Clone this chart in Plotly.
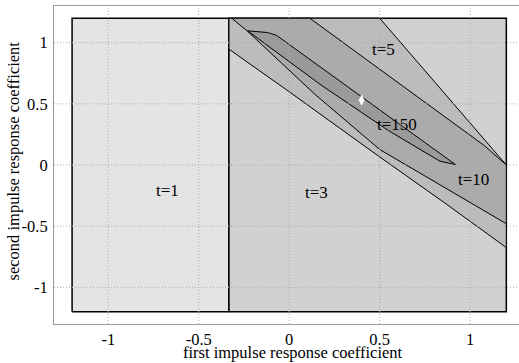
import plotly.graph_objects as go

# ---- data ----
# feasible-set polygons in (first coeff, second coeff) space
t1_x = [-1.2, -0.333, -0.333, -1.2]
t1_y = [-1.2, -1.2, 1.2, 1.2]

t3_x = [-0.333, 1.2, 1.2, -0.333]
t3_y = [-1.2, -1.2, 1.2, 1.2]

t5_x = [-0.333, 0.5, 1.2, 1.2, 0.85, 0.5, -0.02, -0.333]
t5_y = [1.2, 1.2, 0.0, -0.675, -0.30, 0.066, 0.62, 0.947]

t10_x = [-0.318, 0.114, 1.08, 1.2, 1.2, 0.5, 0.142, -0.235]
t10_y = [1.2, 1.2, 0.157, 0.0, -0.48, 0.127, 0.578, 1.10]

t150_x = [-0.23, -0.12, -0.07, 0.918, 0.833, 0.55, 0.17]
t150_y = [1.097, 1.083, 1.06, 0.004, 0.031, 0.28, 0.66]

true_x = [0.4]
true_y = [0.53]

region_names = ["t=1", "t=3", "t=5", "t=10", "t=150"]
label_x = [-0.673, 0.151, 0.519, 1.02, 0.593]
label_y = [-0.207, -0.221, 0.947, -0.119, 0.332]

tick_vals = [-1, -0.5, 0, 0.5, 1]
tick_text = ["-1", "-0.5", "0", "0.5", "1"]

x_title = "first impulse response coefficient"
y_title = "second impulse response coefficient"

# ---- styles ----
FONT = "Liberation Serif"
X_RANGE = [-1.3, 1.27]
Y_RANGE = [-1.3, 1.3]
fills = ["#e4e4e4", "#d1d1d1", "#bcbcbc", "#ababab", "#9a9a9a"]
widths = [1.5, 1.5, 1, 1, 1]
polys = [(t1_x, t1_y), (t3_x, t3_y), (t5_x, t5_y), (t10_x, t10_y), (t150_x, t150_y)]

fig = go.Figure()

for (px, py), fc, w, name in zip(polys, fills, widths, region_names):
    fig.add_trace(go.Scatter(
        x=list(px) + [px[0]], y=list(py) + [py[0]],
        mode="lines", fill="toself", fillcolor=fc,
        line=dict(color="black", width=w), name=name,
        hoverinfo="skip", showlegend=False))

# dotted grid drawn over the fills
for v in tick_vals:
    fig.add_trace(go.Scatter(x=[v, v], y=Y_RANGE, mode="lines",
                             line=dict(color="#aaaaaa", width=1, dash="1px,2px"),
                             hoverinfo="skip", showlegend=False))
    fig.add_trace(go.Scatter(x=[X_RANGE[0], 1.3], y=[v, v], mode="lines",
                             line=dict(color="#aaaaaa", width=1, dash="1px,2px"),
                             hoverinfo="skip", showlegend=False))

fig.add_trace(go.Scatter(x=true_x, y=true_y, mode="markers",
                         marker=dict(symbol="diamond-tall", size=8, color="white",
                                     line=dict(width=0)),
                         showlegend=False))

for name, lx, ly in zip(region_names, label_x, label_y):
    fig.add_annotation(x=lx, y=ly, text=name, showarrow=False,
                       font=dict(family=FONT, size=17, color="black"),
                       xanchor="center", yanchor="middle")

fig.add_annotation(xref="paper", yref="paper", x=0.5146, y=-0.09, text=x_title,
                   showarrow=False, xanchor="center", yanchor="middle",
                   font=dict(family=FONT, size=16.5, color="black"))
fig.add_annotation(xref="paper", yref="paper", x=-0.085, y=0.5126, text=y_title,
                   showarrow=False, textangle=-90, xanchor="center", yanchor="middle",
                   font=dict(family=FONT, size=16.5, color="black"))

fig.update_xaxes(range=X_RANGE, tickvals=tick_vals, ticktext=tick_text,
                 showgrid=False, zeroline=False, showline=True, linecolor="#999999",
                 linewidth=1, mirror=True, ticks="", ticklen=0,
                 tickfont=dict(family=FONT, size=16.5, color="black"))
fig.update_yaxes(range=Y_RANGE, tickvals=tick_vals, ticktext=tick_text,
                 showgrid=False, zeroline=False, showline=True, linecolor="#999999",
                 linewidth=1, mirror=False, ticks="", ticklen=0, ticklabelstandoff=2,
                 tickfont=dict(family=FONT, size=16.5, color="black"))

fig.update_layout(width=519, height=363,
                  margin=dict(l=54, r=0, t=6, b=39),
                  paper_bgcolor="white", plot_bgcolor="white",
                  showlegend=False)

fig.write_html("out.html", config={"displayModeBar": False},
               post_script="document.body.style.margin='0px';document.body.style.padding='0px';")
